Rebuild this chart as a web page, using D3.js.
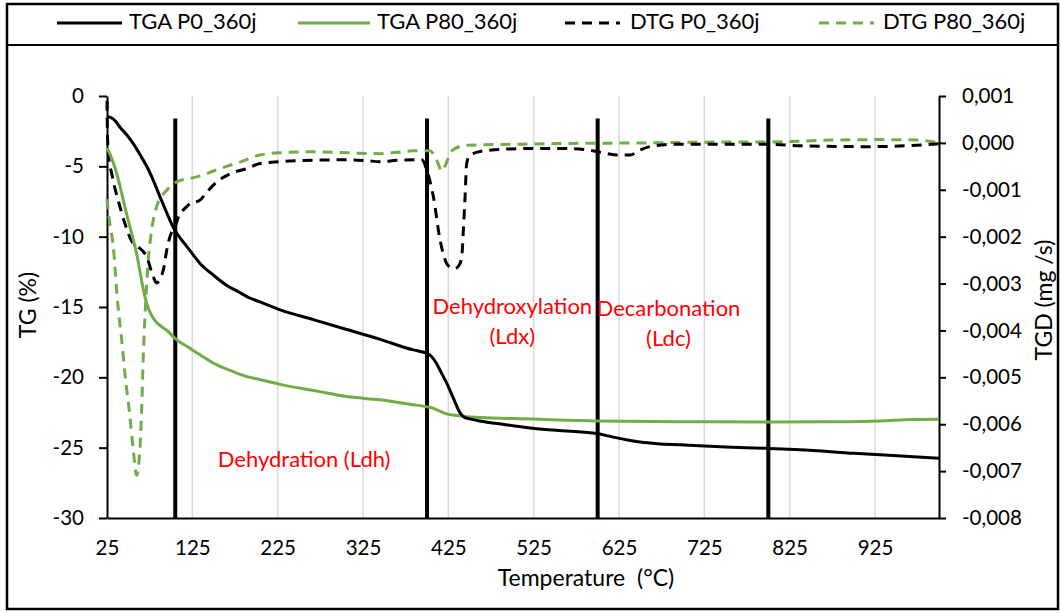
<!DOCTYPE html>
<html><head><meta charset="utf-8">
<script src="https://cdn.jsdelivr.net/npm/d3@7"></script>
<style>
body{margin:0;background:#fff}
svg{display:block}
text{font-family:Lato,'Open Sans',sans-serif;fill:#000}
</style>
</head><body>
<svg id="c" width="1061" height="613"></svg>
<script>
// ---------- DATA ----------
const seriesNames = ["TGA P0_360j", "TGA P80_360j", "DTG P0_360j", "DTG P80_360j"];
const xTicks = [25,125,225,325,425,525,625,725,825,925];
const tgTicks = [0,-5,-10,-15,-20,-25,-30];
const tgdTicks = [0.001,0,-0.001,-0.002,-0.003,-0.004,-0.005,-0.006,-0.007,-0.008];
const stageLines = [105, 400, 600, 800];       // temperatures of stage boundaries
const stageLineRange = [-1.6, -30];            // TG extent of boundary lines

// [temperature °C, TG %]
const tgaP0 = [[25,-1.45],[30,-1.55],[35,-1.8],[40,-2.2],[48,-2.75],[56,-3.4],[64,-4.2],[72,-5.05],[80,-6.1],[88,-7.3],[95,-8.3],[100,-9.0],[105,-9.6],[112,-10.2],[118,-10.65],[126,-11.3],[134,-11.9],[150,-12.75],[165,-13.45],[180,-13.95],[190,-14.3],[205,-14.65],[228,-15.2],[267,-15.9],[306,-16.6],[345,-17.3],[384,-18.05],[395,-18.2],[400,-18.3],[405,-18.5],[411,-19.0],[417,-19.7],[423,-20.4],[431,-21.5],[439,-22.55],[444,-22.85],[450,-22.95],[462,-23.1],[490,-23.35],[521,-23.6],[560,-23.8],[599,-24.0],[618,-24.25],[635,-24.45],[650,-24.6],[670,-24.72],[697,-24.8],[750,-24.95],[799,-25.05],[853,-25.2],[900,-25.4],[931,-25.5],[970,-25.65],[1000,-25.75]];
const tgaP80 = [[25,-3.7],[29,-4.2],[33,-4.85],[37,-5.65],[41,-6.6],[46,-7.9],[51,-9.1],[56,-10.25],[60,-11.3],[64,-12.6],[68,-13.9],[72,-14.85],[76,-15.45],[81,-15.95],[88,-16.35],[95,-16.65],[106,-17.3],[120,-17.85],[134,-18.4],[150,-19.0],[173,-19.6],[189,-19.95],[204,-20.15],[228,-20.5],[267,-20.94],[306,-21.37],[345,-21.6],[384,-21.95],[400,-22.1],[407,-22.2],[413,-22.35],[423,-22.6],[435,-22.72],[447,-22.8],[462,-22.85],[521,-22.96],[599,-23.1],[697,-23.15],[799,-23.17],[892,-23.15],[931,-23.1],[970,-23.0],[1000,-22.98]];
// [temperature °C, TGD mg/s]
const dtgP0 = [[25,0.0009],[25.5,0.0002],[27,-0.0003],[30.5,-0.00065],[34,-0.00095],[38,-0.00122],[46,-0.00172],[54,-0.0021],[61.7,-0.00222],[71.5,-0.00243],[79.3,-0.00286],[83.2,-0.00299],[87,-0.0029],[91,-0.00271],[95,-0.00229],[98.8,-0.002],[104.7,-0.00179],[110.5,-0.0015],[114.4,-0.00143],[122,-0.0013],[134,-0.00122],[142,-0.00105],[149.6,-0.0009],[160,-0.00075],[173,-0.00063],[188.7,-0.00055],[204,-0.00044],[227.7,-0.0004],[266.8,-0.00037],[306,-0.00036],[330,-0.00038],[345,-0.0004],[365,-0.00037],[384,-0.00036],[394,-0.00036],[399.7,-0.00058],[407.5,-0.00115],[415.3,-0.00207],[423,-0.00257],[428,-0.00266],[432.8,-0.00268],[438,-0.0026],[440.7,-0.00243],[442.6,-0.00186],[444.6,-0.00115],[446.5,-0.00044],[450.4,-0.00026],[470,-0.00016],[520.7,-0.00012],[563.7,-0.00012],[591,-0.00016],[610.6,-0.00023],[625,-0.00026],[638,-0.00026],[650,-0.00015],[661,-0.00008],[688.7,-0.00003],[720,-0.00003],[798,-0.00003],[837,-0.00006],[915,-0.00008],[993,-0.00003],[1000,-0.00002]];
const dtgP80 = [[25,-0.0012],[27,-0.00155],[30,-0.0019],[32.4,-0.00222],[36.3,-0.00314],[38,-0.0035],[42.2,-0.0042],[46,-0.00492],[51.9,-0.00584],[55.8,-0.00655],[59.7,-0.00709],[63.7,-0.00648],[65.7,-0.00563],[67.5,-0.00456],[69.5,-0.00371],[73.4,-0.0025],[77.3,-0.00186],[83.2,-0.00136],[95,-0.00101],[110.6,-0.0008],[122.3,-0.00076],[135,-0.0007],[149.6,-0.0006],[165,-0.0005],[180.9,-0.00041],[204,-0.00026],[227.7,-0.00021],[266.8,-0.00019],[306,-0.00021],[345,-0.00023],[365,-0.0002],[384,-0.00017],[403.5,-0.00017],[411.4,-0.00037],[417.3,-0.0006],[421,-0.0005],[427,-0.00023],[431,-0.00014],[446.5,-0.00005],[501,-0.00003],[579,-0.00001],[657,0],[700,0.00001],[767,0.00002],[800,0.00002],[876,0.00006],[935,0.00007],[974,0.00006],[1000,0.0]];

// annotations anchored in data coordinates [T, TG]
const annotations = [
  {lines:["Dehydration (Ldh)"], at:[256,-26.0]},
  {lines:["Dehydroxylation","(Ldx)"], at:[500,-15.1]},
  {lines:["Decarbonation","(Ldc)"], at:[683,-15.25]}
];

// ---------- CHART ----------
const green = "#70AD47";
const svg = d3.select("#c");
const x = d3.scaleLinear().domain([25,1000]).range([107,939]);
const yL = d3.scaleLinear().domain([-30,0]).range([518,96]);
const yR = d3.scaleLinear().domain([-0.008,0.001]).range([518,96]);

// outer frame and legend separator
svg.append("rect").attr("x",7).attr("y",4).attr("width",1051).attr("height",605)
  .attr("fill","none").attr("stroke","#000").attr("stroke-width",2.5);
svg.append("line").attr("x1",7).attr("x2",1058).attr("y1",45).attr("y2",45)
  .attr("stroke","#000").attr("stroke-width",2);

// gridlines
svg.append("g").selectAll("line").data(xTicks.slice(1)).join("line")
  .attr("x1",d=>x(d)).attr("x2",d=>x(d)).attr("y1",yL(0)).attr("y2",yL(-30))
  .attr("stroke","#d9d9d9").attr("stroke-width",1.5);

// axes
const fs = 20.5;
const gL = svg.append("g").attr("transform",`translate(${x(25)},0)`)
  .call(d3.axisLeft(yL).tickValues(tgTicks).tickSize(8).tickSizeOuter(0).tickPadding(15).tickFormat(d=>String(d)));
const gR = svg.append("g").attr("transform",`translate(${x(1000)},0)`)
  .call(d3.axisRight(yR).tickValues(tgdTicks).tickSize(7).tickSizeOuter(0).tickPadding(16)
    .tickFormat(d=>(Math.abs(d)<1e-12?0:d).toFixed(3).replace(".",",")));
const gB = svg.append("g").attr("transform",`translate(0,${yL(-30)})`)
  .call(d3.axisBottom(x).tickValues(xTicks).tickSize(0).tickSizeOuter(0).tickPadding(22).tickFormat(d=>String(d)));
[gL,gR,gB].forEach(g=>{
  g.selectAll("path.domain").attr("stroke","#000").attr("stroke-width",2);
  g.selectAll(".tick line").attr("stroke","#000").attr("stroke-width",2);
  g.selectAll("text").attr("font-family","Lato").attr("font-size",fs).attr("fill","#000");
});

// stage boundary lines
svg.append("g").selectAll("line").data(stageLines).join("line")
  .attr("x1",d=>x(d)).attr("x2",d=>x(d)).attr("y1",yL(stageLineRange[0])).attr("y2",yL(stageLineRange[1]))
  .attr("stroke","#000").attr("stroke-width",4);

// series
const lineL = d3.line().x(d=>x(d[0])).y(d=>yL(d[1])).curve(d3.curveMonotoneX);
const lineR = d3.line().x(d=>x(d[0])).y(d=>yR(d[1])).curve(d3.curveMonotoneX);
const series = [
  {data:dtgP80, gen:lineR, color:green, dash:"10,7"},
  {data:dtgP0, gen:lineR, color:"#000", dash:"10,7"},
  {data:tgaP80, gen:lineL, color:green, dash:null},
  {data:tgaP0, gen:lineL, color:"#000", dash:null}
];
series.forEach(s=>{
  svg.append("path").attr("d",s.gen(s.data)).attr("fill","none")
    .attr("stroke",s.color).attr("stroke-width",3).attr("stroke-dasharray",s.dash)
    .attr("stroke-linejoin","round");
});

// annotations
annotations.forEach(a=>{
  a.lines.forEach((t,i)=>{
    svg.append("text").attr("x",x(a.at[0])).attr("y",yL(a.at[1])+i*30)
      .attr("text-anchor","middle").attr("dominant-baseline","middle")
      .attr("font-size",22).style("fill","#FF0000").text(t);
  });
});

// axis titles
svg.append("text").attr("transform",`translate(30,305) rotate(-90)`).attr("text-anchor","middle")
  .attr("dominant-baseline","middle").attr("font-size",23).text("TG (%)");
svg.append("text").attr("transform",`translate(1046,300) rotate(-90)`).attr("text-anchor","middle")
  .attr("dominant-baseline","middle").attr("font-size",23).text("TGD (mg /s)");
svg.append("text").attr("x",586).attr("y",580).attr("text-anchor","middle")
  .attr("dominant-baseline","middle").attr("font-size",23).text("Temperature\u00a0\u00a0(°C)");

// legend
const legendItems = [
  {name:seriesNames[0], color:"#000", dash:null, x1:57, x2:122, tx:129},
  {name:seriesNames[1], color:green, dash:null, x1:298, x2:370, tx:377},
  {name:seriesNames[2], color:"#000", dash:"10,7", x1:565, x2:620, tx:630},
  {name:seriesNames[3], color:green, dash:"10,7", x1:819, x2:874, tx:883}
];
const lg = svg.append("g");
legendItems.forEach(it=>{
  lg.append("line").attr("x1",it.x1).attr("x2",it.x2).attr("y1",23).attr("y2",23)
    .attr("stroke",it.color).attr("stroke-width",3).attr("stroke-dasharray",it.dash);
  lg.append("text").attr("x",it.tx).attr("y",23).attr("dominant-baseline","middle")
    .attr("font-size",22).text(it.name);
});
</script>
</body></html>
